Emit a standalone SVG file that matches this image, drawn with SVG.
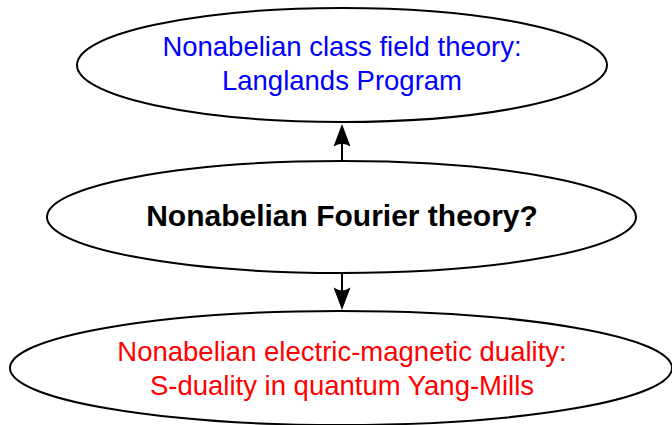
<svg xmlns="http://www.w3.org/2000/svg" width="672" height="425" viewBox="0 0 672 425">
<style>
.node ellipse{fill:#fff;stroke:#000;stroke-width:2}
.t{font-family:"Liberation Sans","DejaVu Sans",sans-serif;font-size:27.5px;text-anchor:middle}
.blue{fill:#0000ff}
.red{fill:#ff0000}
.bold{font-weight:bold;fill:#000;font-size:30px}
.edge{stroke:#000;stroke-width:2;fill:none}
.head{fill:#000;stroke:none}
</style>
<rect width="672" height="425" fill="#fff"/>
<g id="top" class="node">
<ellipse cx="342" cy="65" rx="265" ry="57"/>
<text class="t blue" x="342" y="56">Nonabelian class field theory:</text>
<text class="t blue" x="342" y="90">Langlands Program</text>
</g>
<g id="middle" class="node">
<ellipse cx="341.5" cy="217" rx="294.5" ry="56"/>
<text class="t bold" x="342" y="226">Nonabelian Fourier theory?</text>
</g>
<g id="bottom" class="node">
<ellipse cx="341" cy="368" rx="331" ry="57"/>
<text class="t red" x="342" y="361">Nonabelian electric-magnetic duality:</text>
<text class="t red" x="342" y="395">S-duality in quantum Yang-Mills</text>
</g>
<g id="connectors">
<line class="edge" x1="342" y1="161" x2="342" y2="140"/>
<path class="head" d="M342,124 L350.5,146.5 Q342,141 333.5,146.5 Z"/>
<line class="edge" x1="342" y1="273" x2="342" y2="294"/>
<path class="head" d="M342,310 L350.5,287.5 Q342,293 333.5,287.5 Z"/>
</g>
</svg>
